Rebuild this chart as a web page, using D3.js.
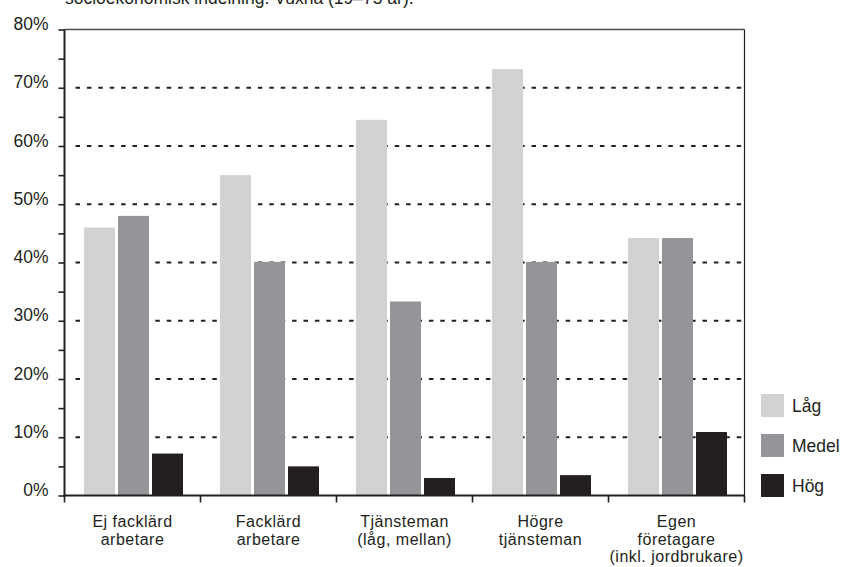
<!DOCTYPE html>
<html><head><meta charset="utf-8">
<script src="https://cdn.jsdelivr.net/npm/d3@7"></script>
<style>
body{margin:0;background:#fff;}
svg{display:block;font-family:"Liberation Sans",Arial,Helvetica,sans-serif;}
</style></head>
<body><svg id="c" width="843" height="567"></svg>
<script>
const categories = [["Ej facklärd","arbetare"],["Facklärd","arbetare"],["Tjänsteman","(låg, mellan)"],["Högre","tjänsteman"],["Egen","företagare","(inkl. jordbrukare)"]];
const seriesNames = ["Låg","Medel","Hög"];
const lagValues = [46, 55, 64.5, 73.2, 44.2];
const medelValues = [48, 40.1, 33.3, 40.1, 44.2];
const hogValues = [7.2, 5.0, 3.0, 3.5, 10.9];
const yTickValues = [0,5,10,15,20,25,30,35,40,45,50,55,60,65,70,75,80];
const gridValues = [10,20,30,40,50,60,70];
const colors = ["#d1d2d4","#939598","#231f20"];
const titleText = "socioekonomisk indelning. Vuxna (19–75 år).";

const ink = "#231f20";
const FS = 17.5;
const svg = d3.select("#c");
const L = 64.5, R = 744.5, T = 29.5, B = 495.5;
const catKeys = categories.map((c,i)=>i);
const x0 = d3.scaleBand().domain(catKeys).range([L,R]);
const x1 = d3.scaleBand().domain(seriesNames).range([19.5,118.5]).paddingInner(0.0882);
const y = d3.scaleLinear().domain([0,80]).range([B,T]);
const values = [lagValues, medelValues, hogValues];

svg.append("text").attr("x",65).attr("y",4).attr("font-size",FS).attr("fill",ink).text(titleText);

// grid
svg.append("g").selectAll("line").data(gridValues).join("line")
  .attr("x1",L+11).attr("x2",R).attr("y1",d=>y(d)).attr("y2",d=>y(d))
  .attr("stroke",ink).attr("stroke-width",2).attr("stroke-dasharray","4.5,6.9");

// bars
const g = svg.append("g");
seriesNames.forEach((s,si)=>{
  g.append("g").selectAll("rect").data(values[si]).join("rect")
    .attr("x",(d,i)=>x0(i)+x1(s)).attr("width",x1.bandwidth())
    .attr("y",d=>y(d)).attr("height",d=>B-y(d)).attr("fill",colors[si]);
});

// frame
svg.append("line").attr("x1",L).attr("x2",R).attr("y1",T).attr("y2",T).attr("stroke","#4d4b4c").attr("stroke-width",1.5);
svg.append("line").attr("x1",R).attr("x2",R).attr("y1",T).attr("y2",B).attr("stroke",ink).attr("stroke-width",1.2);

// y axis
const ya = d3.axisLeft(y).tickValues(yTickValues).tickSize(6).tickSizeOuter(0)
  .tickFormat(d=> d%10===0 ? d+"%" : "");
const yg = svg.append("g").attr("transform",`translate(${L},0)`).call(ya);
yg.select(".domain").attr("stroke",ink).attr("stroke-width",2).attr("d",`M0,${T}V${B+1}`);
yg.selectAll(".tick line").attr("stroke",ink).attr("stroke-width",1.6);
yg.selectAll(".tick text").attr("x",-16).attr("dy","0").attr("font-size",FS).attr("fill",ink)
  .attr("font-family","Liberation Sans,Arial,sans-serif");

// x axis
const xb = svg.append("g");
xb.append("line").attr("x1",L-1).attr("x2",R+0.5).attr("y1",B).attr("y2",B).attr("stroke",ink).attr("stroke-width",2.2);
const bounds = catKeys.map(i=>x0(i)).concat([R]);
xb.selectAll(".xt").data(bounds).join("line").attr("class","xt")
  .attr("x1",d=>d).attr("x2",d=>d).attr("y1",B).attr("y2",B+7).attr("stroke",ink).attr("stroke-width",1.6);
xb.selectAll(".xl").data(categories).join("text").attr("class","xl")
  .attr("x",(d,i)=>x0(i)+x0.bandwidth()/2).attr("y",527).attr("text-anchor","middle")
  .attr("font-size",16).attr("letter-spacing",0.5).attr("fill",ink)
  .each(function(d){
    const t=d3.select(this);
    d.forEach((line,k)=>t.append("tspan").attr("x",t.attr("x")).attr("dy",k===0?0:17.5).text(line));
  });

// legend
const lg = svg.append("g");
seriesNames.forEach((s,i)=>{
  const yy = 394 + i*40;
  lg.append("rect").attr("x",761).attr("y",yy).attr("width",23).attr("height",23).attr("fill",colors[i]);
  lg.append("text").attr("x",792).attr("y",yy+18).attr("font-size",FS).attr("fill",ink).text(s);
});
</script></body></html>
